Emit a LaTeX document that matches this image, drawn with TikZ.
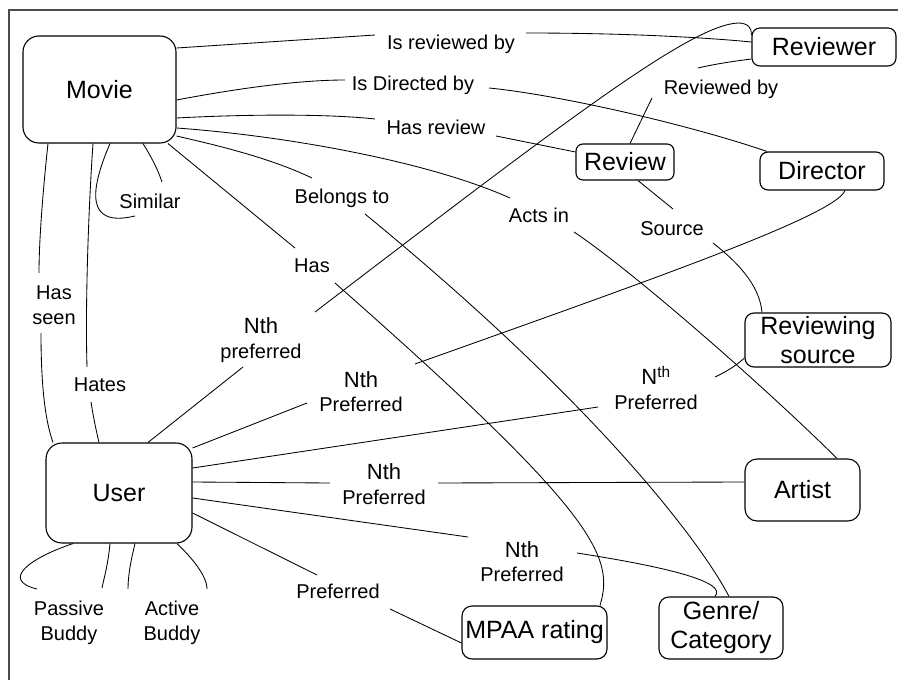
\documentclass[tikz,border=0pt]{standalone}
\usepackage{fontspec}
\setmainfont{Liberation Sans}
\newcommand\bignth{\fontsize{22}{25}\selectfont}
\begin{document}
\begin{tikzpicture}[x=1pt,y=-1pt,
  box/.style={draw, line width=1.1pt, rectangle, inner sep=0pt, font=\fontsize{25}{29}\selectfont, align=center},
  lbl/.style={inner sep=0pt, font=\fontsize{20}{24.5}\selectfont, align=center},
  con/.style={line width=0.85pt},
  frame/.style={draw=black!70, line width=1.4pt}]
\useasboundingbox (0,0) rectangle (898,680);
\draw[frame] (9,680) -- (9,10) -- (898,10);

% entity boxes
\node[box, rounded corners=16pt, minimum width=153pt, minimum height=107pt] (movie) at (99.5,89.5) {Movie};
\node[box, rounded corners=8pt, minimum width=144pt, minimum height=38pt] (reviewer) at (824,47) {Reviewer};
\node[box, rounded corners=7pt, minimum width=98pt, minimum height=36pt] (review) at (625,162) {Review};
\node[box, rounded corners=8pt, minimum width=124pt, minimum height=38pt] (director) at (822,171) {Director};
\node[box, rounded corners=9pt, minimum width=146pt, minimum height=54pt] (rsource) at (818,340) {Reviewing\\source};
\node[box, rounded corners=12pt, minimum width=115pt, minimum height=62pt] (artist) at (802.5,490) {Artist};
\node[box, rounded corners=16pt, minimum width=146pt, minimum height=100pt] (user) at (119,493) {User};
\node[box, rounded corners=10pt, minimum width=145pt, minimum height=53pt] (mpaa) at (534.5,632.5) {MPAA rating};
\node[box, rounded corners=10pt, minimum width=124pt, minimum height=62pt] (genre) at (721,628) {Genre/\\Category};

% relation labels
\node[lbl] (lIsRev) at (451,44) {Is reviewed by};
\node[lbl] (lIsDir) at (413,85) {Is Directed by};
\node[lbl] (lHasRev) at (436,127.5) {Has review};
\node[lbl] (lSimilar) at (150,201) {Similar};
\node[lbl] (lBelongs) at (342,198) {Belongs to};
\node[lbl] (lActs) at (539,215) {Acts in};
\node[lbl] (lHas) at (312,265.5) {Has};
\node[lbl] (lRevBy) at (721,89) {Reviewed by};
\node[lbl] (lSource) at (672,228.5) {Source};
\node[lbl] (lHasSeen) at (54,305) {Has\\seen};
\node[lbl] (lHates) at (100,385) {Hates};
\node[lbl] (lNth1) at (261,340) {{\bignth Nth}\\preferred};
\node[lbl] (lNth2) at (361,391.5) {{\bignth Nth}\\Preferred};
\node[lbl] (lNth3) at (656,388) {{\bignth N\textsuperscript{th}}\\Preferred};
\node[lbl] (lNth4) at (384,484) {{\bignth Nth}\\Preferred};
\node[lbl] (lNth5) at (522,561.5) {{\bignth Nth}\\Preferred};
\node[lbl] (lPref) at (338,591.5) {Preferred};
\node[lbl] (lPassive) at (69,623) {Passive\\Buddy};
\node[lbl] (lActive) at (172,623) {Active\\Buddy};

% connectors from Movie
\draw[con] (movie.east |- 0,48) -- ([shift={(-76,-9)}]lIsRev.center);
\draw[con] ([shift={(75,-11)}]lIsRev.center) .. controls (620,33) and (700,37) .. (reviewer.west |- 0,42);
\draw[con] (movie.east |- 0,100) .. controls (240,88) and (300,80) .. ([shift={(-68,-5)}]lIsDir.center);
\draw[con] ([shift={(76,3)}]lIsDir.center) .. controls (560,95) and (690,125) .. (director.north -| 767,0);
\draw[con] (movie.east |- 0,118) .. controls (250,114) and (330,114) .. ([shift={(-61,-8.5)}]lHasRev.center);
\draw[con] ([shift={(60,8.5)}]lHasRev.center) -- (review.west |- 0,152);
\draw[con] (movie.east |- 0,128) .. controls (288,136) and (430,162) .. ([shift={(-29,-17)}]lActs.center);
\draw[con] ([shift={(35,17)}]lActs.center) .. controls (634,272) and (767,389) .. (artist.north -| 837,0);
\draw[con] (movie.east |- 0,136) .. controls (220,146) and (270,158) .. ([shift={(-30,-20)}]lBelongs.center);
\draw[con] ([shift={(23,16)}]lBelongs.center) .. controls (615,419) and (709,557) .. (genre.north -| 729,0);
\draw[con] (movie.south -| 168,0) -- ([shift={(-17,-17.5)}]lHas.center);
\draw[con] ([shift={(23,17.5)}]lHas.center) .. controls (595,512) and (615,556) .. (mpaa.north -| 600,0);
\draw[con] (movie.south -| 110,0) .. controls (90,190) and (85,228) .. ([shift={(-15,15)}]lSimilar.center);
\draw[con] (movie.south -| 143,0) .. controls (152,158) and (158,170) .. ([shift={(12,-19)}]lSimilar.center);
\draw[con] (movie.south -| 48,0) .. controls (43,190) and (39,240) .. ([shift={(-15,-32)}]lHasSeen.center);
\draw[con] ([shift={(-13,28)}]lHasSeen.center) .. controls (41,385) and (45,420) .. (user.north -| 53,0);
\draw[con] (movie.south -| 93,0) .. controls (89,200) and (85,300) .. ([shift={(-13,-18)}]lHates.center);
\draw[con] ([shift={(-9,17)}]lHates.center) .. controls (93,415) and (96,430) .. (user.north -| 99,0);

% connectors from User
\draw[con] (user.north -| 148,0) -- ([shift={(-18,27)}]lNth1.center);
\draw[con] ([shift={(54,-28)}]lNth1.center) .. controls (560,125) and (690,25) .. (738,23)
  .. controls (748,23) and (752,28) .. (reviewer.west |- 0,35);
\draw[con] (user.east |- 0,448) -- ([shift={(-54,11.5)}]lNth2.center);
\draw[con] ([shift={(54,-27.5)}]lNth2.center) .. controls (665,275) and (835,215) .. (director.south -| 845,0);
\draw[con] (user.east |- 0,468) -- ([shift={(-58,19)}]lNth3.center);
\draw[con] ([shift={(59,-11)}]lNth3.center) .. controls (728,371) and (738,364) .. (rsource.west |- 0,358);
\draw[con] (user.east |- 0,482) -- ([shift={(-54,-1)}]lNth4.center);
\draw[con] ([shift={(54,-1)}]lNth4.center) -- (artist.west |- 0,482);
\draw[con] (user.east |- 0,498) -- ([shift={(-54,-24.5)}]lNth5.center);
\draw[con] ([shift={(55,-8.5)}]lNth5.center) .. controls (667,567) and (728,582) .. (genre.north -| 715,0);
\draw[con] (user.east |- 0,513) -- ([shift={(-21,-16.5)}]lPref.center);
\draw[con] ([shift={(52,17.5)}]lPref.center) -- (mpaa.west |- 0,643);
\draw[con] (user.south -| 73,0) .. controls (30,558) and (0,580) .. ([shift={(-32,-34)}]lPassive.center);
\draw[con] (user.south -| 110,0) .. controls (108,565) and (104,578) .. ([shift={(33,-35)}]lPassive.center);
\draw[con] (user.south -| 135,0) .. controls (131,560) and (128,575) .. ([shift={(-44,-34)}]lActive.center);
\draw[con] (user.south -| 177,0) .. controls (190,556) and (207,575) .. ([shift={(35,-34)}]lActive.center);

% connectors from Review
\draw[con] (review.north -| 630,0) -- ([shift={(-69,9)}]lRevBy.center);
\draw[con] ([shift={(-23,-21)}]lRevBy.center) .. controls (715,64) and (735,61) .. (reviewer.west |- 0,59);
\draw[con] (review.south -| 638,0) -- ([shift={(1,-19.5)}]lSource.center);
\draw[con] ([shift={(41,14.5)}]lSource.center) .. controls (745,268) and (760,290) .. (rsource.north -| 762,0);
\end{tikzpicture}
\end{document}
